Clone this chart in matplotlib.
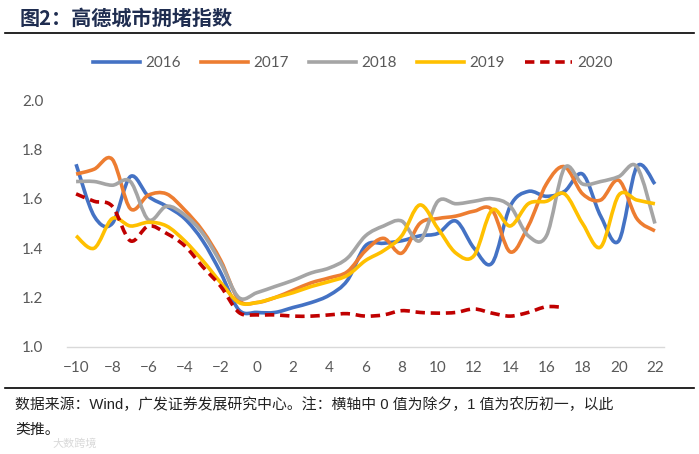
import matplotlib
matplotlib.use("Agg")
import numpy as np
import matplotlib.pyplot as plt
from matplotlib.path import Path
from matplotlib.patches import PathPatch
from matplotlib.lines import Line2D

plt.rcParams['font.family'] = ['Lato', 'Noto Sans CJK SC', 'DejaVu Sans']

# lunar-calendar day offset (0 = new year's eve)
days = list(range(-10, 23))
days_2020 = list(range(-10, 18))

y2016 = [1.74, 1.53, 1.50, 1.69, 1.61, 1.57, 1.52, 1.43, 1.30, 1.15, 1.14, 1.14, 1.16,
         1.18, 1.21, 1.27, 1.41, 1.42, 1.43, 1.45, 1.46, 1.51, 1.40, 1.34, 1.57, 1.63,
         1.61, 1.63, 1.70, 1.53, 1.43, 1.73, 1.66]
y2017 = [1.70, 1.72, 1.76, 1.56, 1.615, 1.62, 1.555, 1.47, 1.35, 1.19, 1.18, 1.20, 1.23,
         1.26, 1.28, 1.305, 1.39, 1.44, 1.38, 1.50, 1.52, 1.53, 1.55, 1.555, 1.385, 1.49,
         1.66, 1.73, 1.62, 1.595, 1.675, 1.52, 1.47]
y2018 = [1.67, 1.67, 1.655, 1.67, 1.515, 1.57, 1.535, 1.46, 1.34, 1.20, 1.22, 1.245, 1.27,
         1.30, 1.32, 1.36, 1.45, 1.49, 1.51, 1.43, 1.59, 1.58, 1.59, 1.60, 1.57, 1.45,
         1.45, 1.725, 1.66, 1.67, 1.69, 1.73, 1.50]
y2019 = [1.45, 1.40, 1.52, 1.49, 1.505, 1.49, 1.43, 1.35, 1.26, 1.18, 1.18, 1.20, 1.22,
         1.245, 1.265, 1.29, 1.35, 1.39, 1.45, 1.575, 1.48, 1.38, 1.37, 1.555, 1.49, 1.58,
         1.59, 1.62, 1.50, 1.405, 1.615, 1.595, 1.58]
y2020 = [1.62, 1.59, 1.57, 1.43, 1.49, 1.46, 1.41, 1.325, 1.245, 1.14, 1.13, 1.13, 1.125,
         1.125, 1.13, 1.135, 1.125, 1.13, 1.147, 1.14, 1.137, 1.14, 1.154, 1.137, 1.125,
         1.14, 1.163, 1.16]

series = [
    ("2016", days, y2016, "#4472C4", "-"),
    ("2017", days, y2017, "#ED7D31", "-"),
    ("2018", days, y2018, "#A5A5A5", "-"),
    ("2019", days, y2019, "#FFC000", "-"),
    ("2020", days_2020, y2020, "#C00000", (0, (2.6, 1.6))),
]


def smooth_path(xs, ys):
    # excel-like smoothed line: catmull-rom segments as cubic beziers
    p = np.column_stack([xs, ys]).astype(float)
    n = len(p)
    verts = [p[0]]
    codes = [Path.MOVETO]
    for i in range(n - 1):
        p0 = p[i - 1] if i > 0 else p[i]
        p1 = p[i]
        p2 = p[i + 1]
        p3 = p[i + 2] if i + 2 < n else p[i + 1]
        c1 = p1 + (p2 - p0) / 6.0
        c2 = p2 - (p3 - p1) / 6.0
        verts += [c1, c2, p2]
        codes += [Path.CURVE4] * 3
    return Path(verts, codes)


fig = plt.figure(figsize=(6.99, 4.54), dpi=100)
ax = fig.add_axes([0.0959, 0.2357, 0.854, 0.544])

handles = []
for name, xs, ys, col, ls in series:
    patch = PathPatch(smooth_path(xs, ys), fill=False, edgecolor=col, lw=2.6,
                      linestyle=ls, capstyle='butt', joinstyle='round')
    ax.add_patch(patch)
    handles.append(Line2D([], [], color=col, lw=2.6, linestyle=ls))

ax.set_xlim(-10.5, 22.5)
ax.set_ylim(1.0, 2.0)
ax.set_xticks(range(-10, 23, 2))
ax.set_yticks(np.arange(1.0, 2.01, 0.2))
ax.set_yticklabels([f"{v:.1f}" for v in np.arange(1.0, 2.01, 0.2)])
ax.tick_params(length=0, labelsize=11, labelcolor="#595959")
ax.tick_params(axis='y', pad=17)
ax.tick_params(axis='x', pad=10)
for s in ["top", "right", "left"]:
    ax.spines[s].set_visible(False)
ax.spines["bottom"].set_color("#D9D9D9")
ax.spines["bottom"].set_linewidth(1.0)

fig.legend(handles, [s[0] for s in series], loc="center", bbox_to_anchor=(0.505, 0.861),
           ncol=5, frameon=False, fontsize=11, handlelength=3.1, handletextpad=0.35,
           columnspacing=1.3, labelcolor="#595959")

fig.text(0.028, 0.96, "图2：高德城市拥堵指数", fontsize=14.5, fontweight="bold",
         color="#1f2d50", va="center", ha="left",
         family=['Noto Sans CJK SC', 'DejaVu Sans'])
fig.add_artist(Line2D([0.007, 0.993], [0.927, 0.927], color="black", lw=1.2))
fig.add_artist(Line2D([0.007, 0.993], [0.146, 0.146], color="black", lw=1.2))

note_font = ['Liberation Sans', 'Noto Sans CJK SC', 'DejaVu Sans']
fig.text(0.022, 0.108, "数据来源：Wind，广发证券发展研究中心。注：横轴中 0 值为除夕，1 值为农历初一，以此",
         fontsize=10.7, color="#222222", va="center", ha="left", family=note_font)
fig.text(0.022, 0.052, "类推。", fontsize=10.7, color="#222222", va="center", ha="left",
         family=note_font)
fig.text(0.075, 0.022, "大数跨境", fontsize=8, color="#d0d0d0", va="center", ha="left",
         family=note_font, alpha=0.8)

fig.savefig("out.png", dpi=100)
